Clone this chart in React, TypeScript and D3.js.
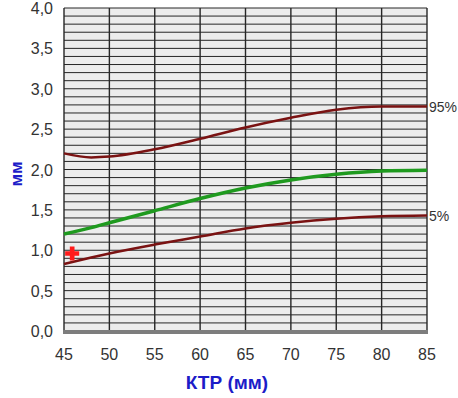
import React, { useEffect, useRef } from "react";
import * as d3 from "d3";

// КТР (мм) on x, values in мм
const ktp = [45, 48, 50, 55, 60, 65, 70, 75, 80, 85];
const p95 = [2.2, 2.15, 2.16, 2.25, 2.38, 2.52, 2.64, 2.74, 2.78, 2.78];
const p50 = [1.2, 1.28, 1.34, 1.49, 1.64, 1.77, 1.87, 1.94, 1.98, 1.99];
const p5 = [0.83, 0.91, 0.96, 1.07, 1.17, 1.27, 1.34, 1.39, 1.42, 1.43];
const marker = { x: 45.9, y: 0.96 };
const xTicks = [45, 50, 55, 60, 65, 70, 75, 80, 85];
const yTicks = [0, 0.5, 1, 1.5, 2, 2.5, 3, 3.5, 4];

export default function App() {
  const ref = useRef<SVGSVGElement>(null);

  useEffect(() => {
    const svg = d3.select(ref.current);
    svg.selectAll("*").remove();

    const left = 64, right = 427, top = 8, bottom = 331;
    const x = d3.scaleLinear().domain([45, 85]).range([left, right]);
    const y = d3.scaleLinear().domain([0, 4]).range([bottom, top]);
    const font = "'Liberation Sans', Arial, sans-serif";

    // plot background
    svg.append("rect")
      .attr("x", left).attr("y", top)
      .attr("width", right - left).attr("height", bottom - top)
      .attr("fill", "#ececec");

    // horizontal grid every 0.1
    svg.append("g").selectAll("line")
      .data(d3.range(1, 41).map(d => d / 10))
      .join("line")
      .attr("x1", left).attr("x2", right)
      .attr("y1", d => y(d)).attr("y2", d => y(d))
      .attr("stroke", "#262626").attr("stroke-width", 1);

    // vertical grid every 5
    svg.append("g").selectAll("line")
      .data(xTicks)
      .join("line")
      .attr("x1", d => x(d)).attr("x2", d => x(d))
      .attr("y1", top).attr("y2", bottom)
      .attr("stroke", "#262626").attr("stroke-width", 1.4);

    // bottom axis band
    svg.append("line")
      .attr("x1", left - 1).attr("x2", right + 1)
      .attr("y1", bottom + 1).attr("y2", bottom + 1)
      .attr("stroke", "#7d7d7d").attr("stroke-width", 4);

    // tick labels
    svg.append("g").selectAll("text")
      .data(yTicks)
      .join("text")
      .attr("x", 53).attr("y", d => y(d) + 6)
      .attr("text-anchor", "end")
      .attr("font-family", font).attr("font-size", 16).attr("fill", "#333")
      .text(d => d3.format(".1f")(d).replace(".", ","));

    svg.append("g").selectAll("text")
      .data(xTicks)
      .join("text")
      .attr("x", d => x(d)).attr("y", 360)
      .attr("text-anchor", "middle")
      .attr("font-family", font).attr("font-size", 16).attr("fill", "#333")
      .text(d => d);

    // axis titles
    svg.append("text")
      .attr("x", 227).attr("y", 389)
      .attr("text-anchor", "middle")
      .attr("font-family", font).attr("font-size", 19).attr("font-weight", "bold")
      .attr("fill", "#1c1cc8")
      .text("КТР (мм)");

    svg.append("text")
      .attr("transform", "translate(22,174) rotate(-90)")
      .attr("text-anchor", "middle")
      .attr("font-family", font).attr("font-size", 17).attr("font-weight", "bold")
      .attr("fill", "#1c1cc8")
      .text("мм");

    const line = (vals: number[]) =>
      d3.line<number>()
        .x((_, i) => x(ktp[i]))
        .y(d => y(d))
        .curve(d3.curveMonotoneX)(vals);

    svg.append("path").attr("d", line(p95))
      .attr("fill", "none").attr("stroke", "#7a1212").attr("stroke-width", 2.5);
    svg.append("path").attr("d", line(p5))
      .attr("fill", "none").attr("stroke", "#7a1212").attr("stroke-width", 2.5);
    svg.append("path").attr("d", line(p50))
      .attr("fill", "none").attr("stroke", "#1f9a1f").attr("stroke-width", 3.5);

    // percentile labels
    svg.append("text")
      .attr("x", 429).attr("y", y(p95[p95.length - 1]) + 5)
      .attr("font-family", font).attr("font-size", 14).attr("fill", "#333")
      .text("95%");
    svg.append("text")
      .attr("x", 429).attr("y", y(p5[p5.length - 1]) + 5)
      .attr("font-family", font).attr("font-size", 14).attr("fill", "#333")
      .text("5%");

    // red plus marker
    svg.append("path")
      .attr("d", d3.symbol(d3.symbolCross, 110)())
      .attr("transform", `translate(${x(marker.x)},${y(marker.y)})`)
      .attr("fill", "#ff1a1a");
  }, []);

  return (
    <svg ref={ref} width={458} height={398}
      style={{ position: "absolute", left: 0, top: 0, background: "#fff" }} />
  );
}
